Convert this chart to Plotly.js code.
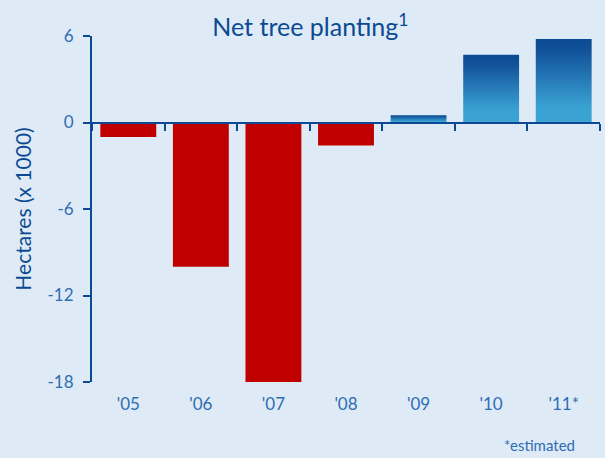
<!DOCTYPE html>
<html>
<head>
<meta charset="utf-8">
<script src="https://cdn.plot.ly/plotly-3.0.1.min.js"></script>
<style>
  html, body { margin: 0; padding: 0; background: #DEEAF6; }
  #chart { width: 605px; height: 458px; }
</style>
</head>
<body>
<div id="chart"></div>
<script>
// Data (hectares x 1000)
const years = ["'05", "'06", "'07", "'08", "'09", "'10", "'11*"];
const values = [-1.0, -10.0, -18.0, -1.6, 0.5, 4.7, 5.8];
const yTicks = [6, 0, -6, -12, -18];

const NAVY = '#0B4A92';
const LABEL = '#2F6DB3';
const RED = '#C00000';

const barColors = values.map(v => v < 0 ? RED : '#2A7FBF');

const mainBar = {
  type: 'bar',
  x: years,
  y: values,
  marker: { color: barColors, line: { width: 0 } },
  hoverinfo: 'x+y',
  xaxis: 'x',
  yaxis: 'y'
};

// transparent copy so the zero-line axis (x2) is drawn
const ghostBar = {
  type: 'bar',
  x: years,
  y: values,
  marker: { color: 'rgba(0,0,0,0)' },
  hoverinfo: 'skip',
  showlegend: false,
  xaxis: 'x2',
  yaxis: 'y'
};

const yRange = [-18, 6];
const zeroPos = (0 - yRange[0]) / (yRange[1] - yRange[0]);

const layout = {
  width: 605,
  height: 458,
  paper_bgcolor: '#DEEAF6',
  plot_bgcolor: '#DEEAF6',
  margin: { l: 92, r: 5, t: 36, b: 76 },
  showlegend: false,
  bargap: 0.23,
  font: { family: 'Lato, "Open Sans", sans-serif', color: LABEL },
  title: {
    text: 'Net tree planting<sup>1</sup>',
    font: { family: 'Lato, "Open Sans", sans-serif', size: 25, color: NAVY },
    x: 0.513, xanchor: 'center',
    y: 0.94, yanchor: 'middle'
  },
  xaxis: {
    type: 'category',
    showline: false,
    showgrid: false,
    zeroline: false,
    ticks: '',
    tickfont: { size: 17, color: LABEL },
    ticklabelstandoff: 10,
    fixedrange: true
  },
  xaxis2: {
    type: 'category',
    overlaying: 'x',
    anchor: 'free',
    position: zeroPos,
    side: 'bottom',
    showline: true,
    linecolor: NAVY,
    linewidth: 2,
    showgrid: false,
    zeroline: false,
    ticks: 'outside',
    tickson: 'boundaries',
    ticklen: 7,
    tickwidth: 2,
    tickcolor: NAVY,
    showticklabels: false,
    fixedrange: true
  },
  yaxis: {
    range: yRange,
    tickvals: yTicks,
    ticktext: yTicks.map(String),
    showline: true,
    linecolor: NAVY,
    linewidth: 2,
    ticks: 'outside',
    ticklen: 7,
    tickwidth: 2,
    tickcolor: NAVY,
    showgrid: false,
    zeroline: false,
    tickfont: { size: 17, color: LABEL },
    ticklabelstandoff: 6,
    title: {
      text: 'Hectares (x 1000)',
      font: { size: 21, color: NAVY },
      standoff: 10
    },
    fixedrange: true
  },
  annotations: [{
    text: '*estimated',
    xref: 'paper', yref: 'paper',
    x: 0.955, y: -0.183,
    xanchor: 'right', yanchor: 'middle',
    showarrow: false,
    font: { size: 15, color: LABEL }
  }]
};

Plotly.newPlot('chart', [mainBar, ghostBar], layout, { displayModeBar: false, staticPlot: true })
.then(function (gd) {
  // vertical gradient for positive bars
  const svg = gd.querySelector('svg.main-svg');
  const ns = 'http://www.w3.org/2000/svg';
  let defs = svg.querySelector('defs');
  if (!defs) { defs = document.createElementNS(ns, 'defs'); svg.insertBefore(defs, svg.firstChild); }
  const grad = document.createElementNS(ns, 'linearGradient');
  grad.setAttribute('id', 'blueGrad');
  grad.setAttribute('x1', '0'); grad.setAttribute('y1', '0');
  grad.setAttribute('x2', '0'); grad.setAttribute('y2', '1');
  [['0%', '#0A4A93'], ['15%', '#12539A'], ['55%', '#2A82BD'], ['82%', '#3AA2D3'], ['100%', '#3CA5D6']].forEach(function (s) {
    const st = document.createElementNS(ns, 'stop');
    st.setAttribute('offset', s[0]);
    st.setAttribute('stop-color', s[1]);
    grad.appendChild(st);
  });
  defs.appendChild(grad);
  const traces = gd.querySelectorAll('.barlayer .trace');
  const pts = traces[0].querySelectorAll('.point path');
  pts.forEach(function (p, i) {
    if (values[i] >= 0) p.style.fill = 'url(#blueGrad)';
  });
});
</script>
</body>
</html>
